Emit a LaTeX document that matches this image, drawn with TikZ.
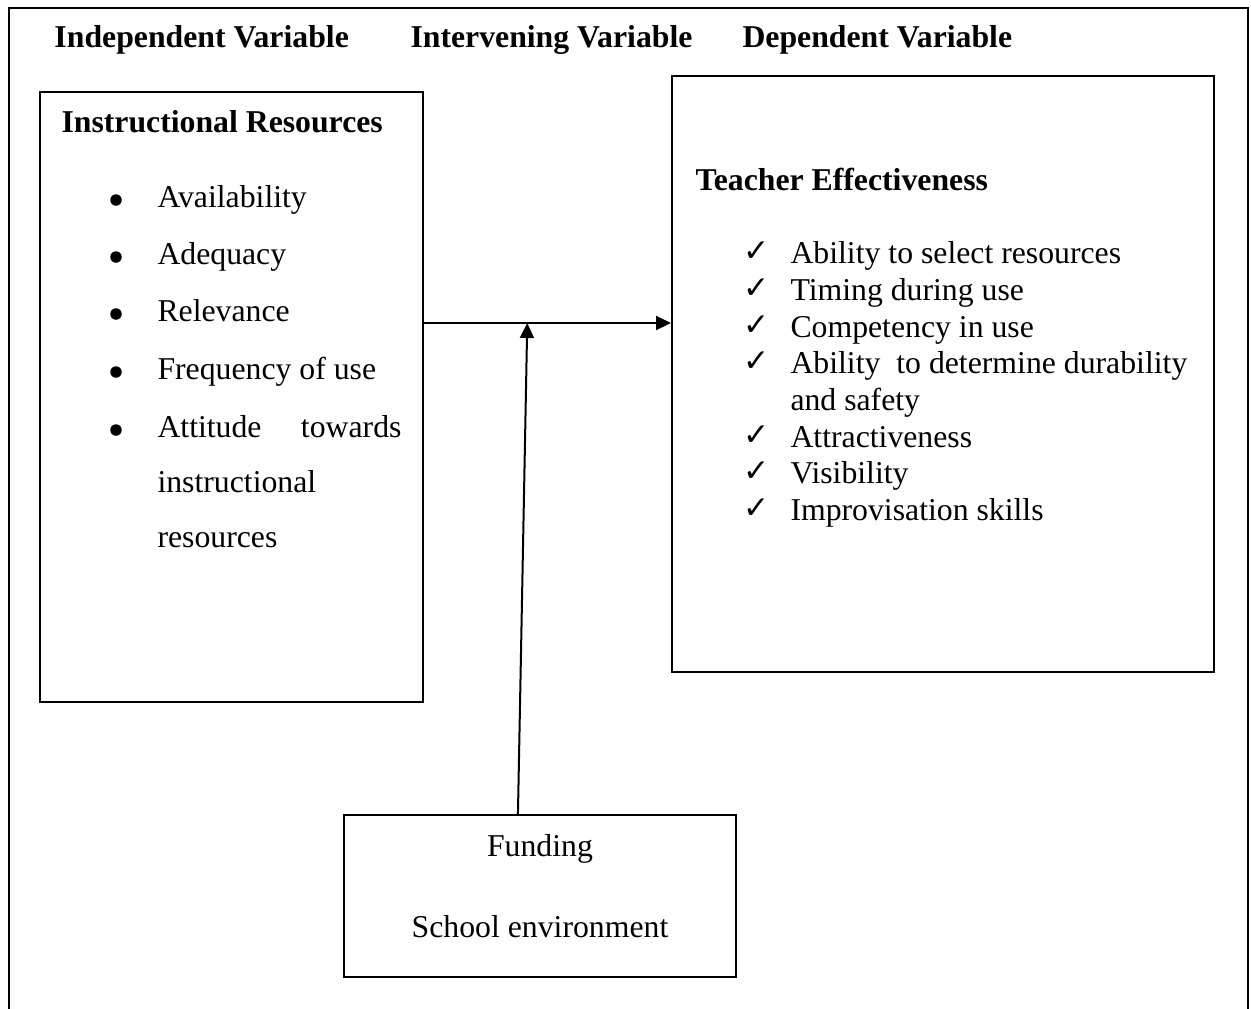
\documentclass[tikz,border=0pt]{standalone}
\usepackage{fontspec}
\setmainfont{Liberation Serif}
\newfontfamily\tickfont{DejaVu Sans}
\usetikzlibrary{arrows.meta,calc,fit}
\begin{document}
\begin{tikzpicture}[x=0.4pt,y=-0.4pt,
  frame/.style={line width=0.8pt},
  panel/.style={draw, line width=0.8pt, inner sep=0pt, fit=#1},
  txt/.style={anchor=base west, inner sep=0pt, font=\fontsize{12.7}{15}\selectfont},
  head/.style={txt, font=\fontsize{12.7}{15}\selectfont\bfseries},
  ctr/.style={txt, anchor=base},
  dot/.style={circle, fill, inner sep=0pt, minimum size=4.6pt},
  tick/.style={anchor=base west, inner sep=0pt, font=\tickfont\fontsize{12.5}{14}\selectfont},
  link/.style={line width=0.8pt, -{Triangle[length=6pt,width=5.6pt]}}]

\useasboundingbox (0,0) rectangle (1251,1008);

% page frame (open at the bottom)
\draw[frame] (9,1010) -- (9,8) -- (1248,8) -- (1248,1010);

% column headings
\node[head] (hIV) at (54,47) {Independent Variable};
\node[head] (hMV) at (410,47) {Intervening Variable};
\node[head] (hDV) at (742,47) {Dependent Variable};

% independent variable panel
\coordinate (lNW) at (40,92);
\coordinate (lSE) at (423,702);
\node[panel=(lNW)(lSE)] (res) {};
\node[head] (resT) at (61,132) {Instructional Resources};
\node[dot] (b1) at (116,200) {};
\node[txt] (r1) at (157,207) {Availability};
\node[dot] (b2) at (116,257) {};
\node[txt] (r2) at (157,264) {Adequacy};
\node[dot] (b3) at (116,314) {};
\node[txt] (r3) at (157,321) {Relevance};
\node[dot] (b4) at (116,372) {};
\node[txt] (r4) at (157,379) {Frequency of use};
\node[dot] (b5) at (116,430) {};
\node[txt] (r5a) at (157,437) {Attitude};
\node[txt, anchor=base east] (r5b) at (402,437) {towards};
\node[txt] (r5c) at (157,492) {instructional};
\node[txt] (r5d) at (157,547) {resources};

% dependent variable panel
\coordinate (rNW) at (672,76);
\coordinate (rSE) at (1214,672);
\node[panel=(rNW)(rSE)] (eff) {};
\node[head] (effT) at (695,190) {Teacher Effectiveness};
\node[tick] (c1) at (743,261) {✓};
\node[txt] (e1) at (790,263) {Ability to select resources};
\node[tick] (c2) at (743,298) {✓};
\node[txt] (e2) at (790,300) {Timing during use};
\node[tick] (c3) at (743,335) {✓};
\node[txt] (e3) at (790,337) {Competency in use};
\node[tick] (c4) at (743,371) {✓};
\node[txt] (e4) at (790,373) {Ability\ \ to determine durability};
\node[txt] (e4b) at (790,410) {and safety};
\node[tick] (c5) at (743,445) {✓};
\node[txt] (e5) at (790,447) {Attractiveness};
\node[tick] (c6) at (743,481) {✓};
\node[txt] (e6) at (790,483) {Visibility};
\node[tick] (c7) at (743,518) {✓};
\node[txt] (e7) at (790,520) {Improvisation skills};

% intervening variable panel
\coordinate (fNW) at (344,815);
\coordinate (fSE) at (736,977);
\node[panel=(fNW)(fSE)] (fund) {};
\node[ctr] (f1) at (540,856) {Funding};
\node[ctr] (f2) at (540,937) {School environment};

% connectors
\coordinate (linkY) at (0,323);
\coordinate (src) at (res.east |- linkY);
\coordinate (dst) at (eff.west |- linkY);
\draw[link] (src) -- (dst);
\coordinate (meet) at ($(src)!0.418!(dst)$);
\coordinate (fout) at ($(fund.north west)!0.444!(fund.north east)$);
\draw[link] (fout) -- (meet);
\end{tikzpicture}
\end{document}
